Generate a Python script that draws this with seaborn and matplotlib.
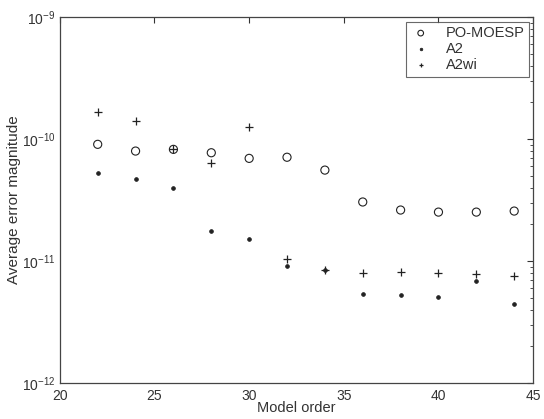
import matplotlib
matplotlib.use("Agg")
import matplotlib.pyplot as plt
import seaborn as sns
import pandas as pd
from matplotlib.ticker import FixedLocator, NullFormatter, LogFormatterSciNotation

model_order = [22, 24, 26, 28, 30, 32, 34, 36, 38, 40, 42, 44]
po_moesp = [9.06e-11, 7.98e-11, 8.24e-11, 7.73e-11, 6.95e-11, 7.10e-11,
            5.57e-11, 3.05e-11, 2.62e-11, 2.52e-11, 2.52e-11, 2.57e-11]
a2 = [5.30e-11, 4.70e-11, 3.97e-11, 1.77e-11, 1.51e-11, 9.1e-12,
      8.4e-12, 5.35e-12, 5.25e-12, 5.06e-12, 6.87e-12, 4.43e-12]
a2wi = [1.68e-10, 1.41e-10, 8.3e-11, 6.32e-11, 1.26e-10, 1.03e-11,
        8.4e-12, 8.0e-12, 8.15e-12, 8.0e-12, 7.8e-12, 7.5e-12]
series_names = ["PO-MOESP", "A2", "A2wi"]
x_ticks = [20, 25, 30, 35, 40, 45]
y_ticks = [1e-12, 1e-11, 1e-10, 1e-9]

sns.set_theme(style="white")
plt.rcParams['font.family'] = ['Liberation Sans', 'DejaVu Sans']
plt.rcParams['mathtext.fontset'] = 'custom'
plt.rcParams['mathtext.rm'] = 'Liberation Sans'
plt.rcParams['mathtext.it'] = 'Liberation Sans'

fig = plt.figure(figsize=(5.44, 4.19), dpi=100)
ax = fig.add_axes([0.110, 0.086, 0.870, 0.873])

col = "#222222"
sns.scatterplot(x=model_order, y=po_moesp, ax=ax, marker="o", s=34,
                facecolors="none", edgecolor=col, linewidth=0.8, label=series_names[0])
sns.scatterplot(x=model_order, y=a2, ax=ax, marker=".", s=30,
                color=col, edgecolor=col, linewidth=0.5, label=series_names[1])
sns.scatterplot(x=model_order, y=a2wi, ax=ax, marker="+", s=26,
                color=col, linewidth=0.9, label=series_names[2])

ax.set_yscale("log")
ax.set_xlim(20, 45)
ax.set_ylim(1e-12, 1e-9)
ax.xaxis.set_major_locator(FixedLocator(x_ticks))
ax.yaxis.set_major_locator(FixedLocator(y_ticks))
ax.yaxis.set_major_formatter(LogFormatterSciNotation())
minor = [m * d for d in y_ticks[:-1] for m in range(2, 10)]
ax.yaxis.set_minor_locator(FixedLocator(minor))
ax.yaxis.set_minor_formatter(NullFormatter())
ax.tick_params(which="both", direction="in", top=True, right=True,
               colors="#333333", labelsize=10, labelcolor="#333333")
ax.tick_params(which="major", length=4, width=0.8)
ax.tick_params(axis="x", which="major", pad=4)
ax.tick_params(axis="y", which="major", pad=3)
ax.tick_params(which="minor", length=2, width=0.6)
for s in ax.spines.values():
    s.set_color("#444444")
    s.set_linewidth(0.9)

ax.set_xlabel("Model order", fontsize=10.5, color="#333333", labelpad=-1)
ax.set_ylabel("Average error magnitude", fontsize=11, color="#333333", labelpad=1)

leg = ax.legend(loc="upper right", fontsize=10.5, frameon=True, fancybox=False,
                edgecolor="#444444", borderaxespad=0.3, handletextpad=1.0,
                handlelength=1.4, labelspacing=0.15, borderpad=0.3, markerscale=0.7)
leg.get_frame().set_linewidth(0.8)
for t in leg.get_texts():
    t.set_color("#333333")

fig.savefig("out.png", dpi=100)
